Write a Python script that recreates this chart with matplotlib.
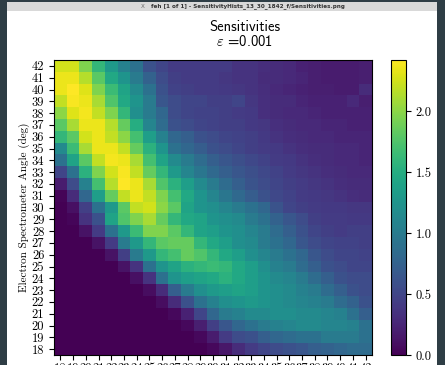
import numpy as np
import matplotlib
matplotlib.use('Agg')
import matplotlib.pyplot as plt
from matplotlib.patches import Rectangle

W, H = 445, 365

angles_x = list(range(18, 43))
angles_y = list(range(18, 43))
cbar_ticks = [0.0, 0.5, 1.0, 1.5, 2.0]
eps_label = '0.001'
window_title = 'feh [1 of 1] - SensitivityHists_13_30_1842_f/Sensitivities.png'

# sensitivity per cell; rows run from 42 deg (top) down to 18 deg
sens_rows = [
	[2.25, 2.25, 1.95, 1.6, 1.3, 1.05, 0.9, 0.6, 0.5, 0.42, 0.42, 0.42, 0.42, 0.42, 0.35, 0.35, 0.32, 0.3, 0.28, 0.22, 0.2, 0.18, 0.18, 0.18, 0.2],
	[2.35, 2.35, 2.15, 1.8, 1.45, 1.25, 1.0, 0.75, 0.55, 0.45, 0.42, 0.42, 0.42, 0.38, 0.35, 0.35, 0.3, 0.3, 0.28, 0.25, 0.2, 0.18, 0.18, 0.18, 0.2],
	[2.35, 2.42, 2.3, 1.95, 1.65, 1.4, 1.15, 0.9, 0.6, 0.48, 0.45, 0.42, 0.42, 0.4, 0.38, 0.35, 0.32, 0.28, 0.25, 0.22, 0.2, 0.2, 0.18, 0.18, 0.3],
	[2.2, 2.4, 2.35, 2.1, 1.75, 1.45, 1.25, 1.0, 0.65, 0.55, 0.5, 0.5, 0.45, 0.45, 0.5, 0.38, 0.33, 0.3, 0.3, 0.25, 0.22, 0.22, 0.22, 0.28, 0.2],
	[2.0, 2.3, 2.38, 2.2, 1.95, 1.6, 1.2, 1.0, 0.8, 0.55, 0.5, 0.48, 0.48, 0.45, 0.42, 0.4, 0.33, 0.3, 0.28, 0.28, 0.25, 0.22, 0.22, 0.22, 0.22],
	[1.8, 2.1, 2.35, 2.35, 2.15, 1.85, 1.5, 1.1, 0.85, 0.6, 0.55, 0.5, 0.48, 0.45, 0.45, 0.4, 0.38, 0.33, 0.3, 0.28, 0.28, 0.25, 0.25, 0.22, 0.22],
	[1.6, 1.8, 2.25, 2.35, 2.2, 2.0, 1.7, 1.35, 1.05, 0.8, 0.72, 0.6, 0.55, 0.5, 0.48, 0.45, 0.4, 0.35, 0.32, 0.3, 0.28, 0.28, 0.25, 0.25, 0.25],
	[1.15, 1.65, 2.1, 2.35, 2.35, 2.2, 1.85, 1.55, 1.25, 0.9, 0.8, 0.7, 0.6, 0.55, 0.5, 0.45, 0.42, 0.4, 0.35, 0.32, 0.3, 0.3, 0.28, 0.28, 0.25],
	[0.9, 1.4, 1.8, 2.2, 2.38, 2.35, 2.1, 1.7, 1.4, 1.15, 1.0, 0.85, 0.72, 0.65, 0.58, 0.52, 0.48, 0.42, 0.4, 0.35, 0.32, 0.3, 0.28, 0.28, 0.25],
	[0.5, 0.9, 1.55, 1.95, 2.25, 2.4, 2.2, 1.85, 1.6, 1.3, 1.1, 0.95, 0.82, 0.72, 0.65, 0.58, 0.52, 0.48, 0.42, 0.38, 0.35, 0.32, 0.3, 0.28, 0.28],
	[0.18, 0.55, 1.05, 1.7, 2.15, 2.42, 2.35, 2.1, 1.75, 1.55, 1.35, 1.15, 1.0, 0.85, 0.72, 0.62, 0.55, 0.5, 0.45, 0.42, 0.38, 0.35, 0.32, 0.3, 0.3],
	[0.02, 0.3, 0.8, 1.35, 1.85, 2.2, 2.35, 2.2, 1.95, 1.7, 1.45, 1.25, 1.1, 0.95, 0.82, 0.7, 0.6, 0.52, 0.48, 0.42, 0.4, 0.38, 0.35, 0.32, 0.3],
	[0.0, 0.1, 0.45, 0.9, 1.3, 1.8, 2.2, 2.25, 2.0, 1.8, 1.4, 1.25, 1.2, 1.1, 1.0, 0.9, 0.8, 0.62, 0.5, 0.45, 0.42, 0.4, 0.4, 0.38, 0.38],
	[0.0, 0.03, 0.35, 0.6, 1.4, 1.75, 1.95, 2.1, 1.85, 1.6, 1.45, 1.4, 1.25, 1.2, 1.15, 1.0, 0.9, 0.75, 0.65, 0.55, 0.45, 0.42, 0.42, 0.4, 0.4],
	[0.0, 0.0, 0.12, 0.42, 0.9, 1.3, 1.65, 1.95, 1.95, 1.8, 1.6, 1.4, 1.35, 1.25, 1.2, 1.1, 1.0, 0.85, 0.72, 0.6, 0.5, 0.45, 0.42, 0.45, 0.45],
	[0.0, 0.0, 0.0, 0.12, 0.42, 1.0, 1.3, 1.6, 1.8, 1.85, 1.85, 1.6, 1.45, 1.35, 1.2, 1.15, 1.0, 0.9, 0.8, 0.65, 0.55, 0.5, 0.48, 0.48, 0.45],
	[0.0, 0.0, 0.0, 0.0, 0.12, 0.45, 1.0, 1.3, 1.6, 1.7, 1.85, 1.75, 1.6, 1.45, 1.35, 1.2, 1.1, 1.0, 0.9, 0.8, 0.65, 0.55, 0.5, 0.5, 0.48],
	[0.0, 0.0, 0.0, 0.0, 0.0, 0.12, 0.35, 0.9, 1.25, 1.4, 1.55, 1.6, 1.65, 1.6, 1.45, 1.35, 1.2, 1.05, 1.0, 0.85, 0.72, 0.6, 0.55, 0.5, 0.5],
	[0.0, 0.0, 0.0, 0.0, 0.0, 0.0, 0.1, 0.35, 0.9, 1.25, 1.35, 1.4, 1.45, 1.55, 1.45, 1.35, 1.25, 1.15, 1.1, 1.0, 0.85, 0.72, 0.6, 0.55, 0.55],
	[0.0, 0.0, 0.0, 0.0, 0.0, 0.0, 0.0, 0.08, 0.3, 0.72, 1.0, 1.2, 1.3, 1.35, 1.4, 1.35, 1.25, 1.2, 1.15, 1.05, 1.0, 0.85, 0.72, 0.6, 0.55],
	[0.0, 0.0, 0.0, 0.0, 0.0, 0.0, 0.0, 0.0, 0.08, 0.3, 0.6, 0.9, 1.05, 1.2, 1.25, 1.3, 1.25, 1.2, 1.15, 1.1, 1.05, 1.0, 0.85, 0.75, 0.6],
	[0.0, 0.0, 0.0, 0.0, 0.0, 0.0, 0.0, 0.0, 0.0, 0.05, 0.22, 0.5, 0.8, 1.0, 1.05, 1.15, 1.15, 1.2, 1.2, 1.15, 1.15, 1.1, 1.05, 0.9, 0.72],
	[0.0, 0.0, 0.0, 0.0, 0.0, 0.0, 0.0, 0.0, 0.0, 0.0, 0.05, 0.2, 0.45, 0.65, 0.8, 0.9, 1.0, 1.05, 1.1, 1.15, 1.15, 1.1, 1.1, 1.05, 0.9],
	[0.0, 0.0, 0.0, 0.0, 0.0, 0.0, 0.0, 0.0, 0.0, 0.0, 0.0, 0.05, 0.18, 0.42, 0.55, 0.6, 0.72, 0.8, 0.85, 0.9, 0.9, 1.0, 1.0, 1.0, 0.9],
	[0.0, 0.0, 0.0, 0.0, 0.0, 0.0, 0.0, 0.0, 0.0, 0.0, 0.0, 0.0, 0.05, 0.15, 0.3, 0.42, 0.5, 0.55, 0.6, 0.65, 0.72, 0.75, 0.8, 0.85, 0.85],
]

plt.rcParams['mathtext.fontset'] = 'cm'
plt.rcParams['font.family'] = 'cmr10'
plt.rcParams['axes.formatter.use_mathtext'] = True


def px_box(x0, y0, x1, y1):
	# pixel box (top-left origin) -> figure fraction rect
	return [x0 / W, 1 - y1 / H, (x1 - x0) / W, (y1 - y0) / H]


fig = plt.figure(figsize=(W / 100, H / 100), dpi=100)
fig.patch.set_facecolor('white')

# window frame around the image viewer
frame = '#2e3d45'
for x0, y0, x1, y1, c in [(0, 0, 7, H, frame), (437, 0, W, H, frame),
						  (0, 0, W, 2, frame), (7, 2, 437, 11, '#d9d9d9')]:
	b = px_box(x0, y0, x1, y1)
	fig.add_artist(Rectangle((b[0], b[1]), b[2], b[3], transform=fig.transFigure,
							 facecolor=c, edgecolor='none', zorder=0))
fig.text(248 / W, 1 - 6.5 / H, window_title, ha='center', va='center',
		 fontsize=4.1, family='DejaVu Sans', weight='bold', color='#333333')
fig.text(143 / W, 1 - 6.5 / H, 'X', ha='center', va='center',
		 fontsize=4.1, family='DejaVu Sans', color='#666666')

# heatmap
ax = fig.add_axes(px_box(54, 60, 372, 355))
sens = np.array(sens_rows)[::-1]
x_edges = np.arange(angles_x[0] - 0.5, angles_x[-1] + 1)
y_edges = np.arange(angles_y[0] - 0.5, angles_y[-1] + 1)
mesh = ax.pcolormesh(x_edges, y_edges, sens, cmap='viridis', vmin=0, vmax=sens.max())
ax.set_xticks(angles_x)
ax.set_yticks(angles_y)
ax.set_xticklabels([str(a) for a in angles_x], fontsize=9)
ax.set_yticklabels([str(a) for a in angles_y], fontsize=9)
ax.tick_params(axis='x', pad=2)
ax.set_xlim(x_edges[0], x_edges[-1])
ax.set_ylim(y_edges[0], y_edges[-1])
ax.set_ylabel('Electron Spectrometer Angle (deg)', fontsize=8, labelpad=1)

# colorbar
cax = fig.add_axes(px_box(391, 60, 406, 355))
cb = fig.colorbar(mesh, cax=cax, ticks=cbar_ticks)
cb.ax.set_yticklabels(['%.1f' % t for t in cbar_ticks], fontsize=9)

# title
fig.text(245 / W, 1 - 27 / H, 'Sensitivities', ha='center', va='center',
		 fontsize=10.5, family='cmss10')
fig.text(245 / W, 1 - 42 / H, r'$\varepsilon$ =' + eps_label, ha='center',
		 va='center', fontsize=10.5, family='cmss10')

fig.savefig('out.png', dpi=100)
